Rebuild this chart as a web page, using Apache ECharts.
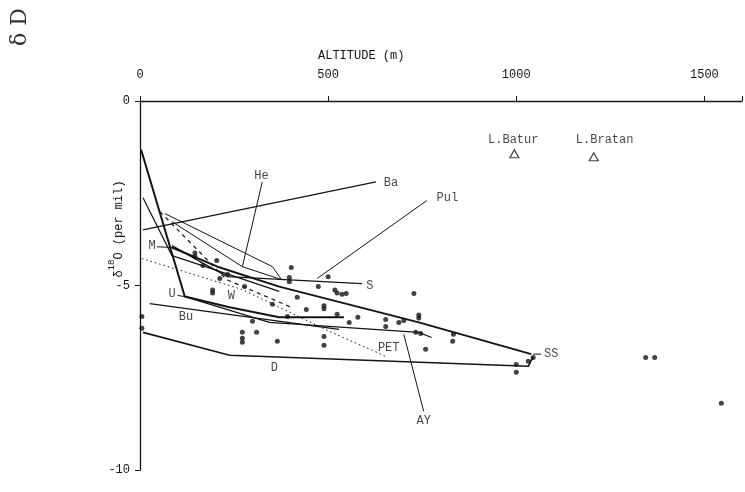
<!DOCTYPE html>
<html>
<head>
<meta charset="utf-8">
<style>
  html, body { margin: 0; padding: 0; background: #fff; }
  #chart { width: 745px; height: 492px; }
</style>
<script src="https://cdn.jsdelivr.net/npm/echarts@6/dist/echarts.min.js"></script>
</head>
<body>
<div id="chart"></div>
<script>
// Altitude (m) vs delta-18O (per mil) profiles along Bali streams

// Axis ticks
const altitudeTicks = [0, 500, 1000, 1500];
const deltaTicks = [0, -5, -10];

// Stream profiles: [altitude, delta18O]
const steepU   = [[3, -1.32], [119, -5.30], [238, -5.59], [370, -5.86], [542, -5.86]];
const ayLine   = [[119, -5.30], [344, -6.00], [741, -6.27], [775, -6.41]];
const ssUpper  = [[85, -3.97], [206, -4.49], [370, -5.03], [741, -6.00], [1040, -6.86]];
const mLower   = [[8, -2.62], [85, -4.19], [198, -4.57], [370, -5.16]];
const sLine    = [[85, -3.92], [159, -4.35], [233, -4.76], [423, -4.86], [590, -4.95]];
const heUpper  = [[66, -3.05], [352, -4.49], [376, -4.84]];
const heLower  = [[85, -3.27], [272, -4.49], [376, -4.84]];
const wLine    = [[53, -3.00], [230, -4.84], [402, -5.59]];
const petLine  = [[5, -4.27], [272, -5.11], [503, -6.24], [653, -6.92]];
const buLine   = [[26, -5.49], [529, -6.19]];
const dLine    = [[8, -6.27], [238, -6.89], [1032, -7.19], [1045, -6.92]];
const baLine   = [[8, -3.49], [627, -2.19]];

// Leader lines from names to profiles
const leaders = [
  [[325, -2.19], [272, -4.49]],   // He
  [[762, -2.70], [471, -4.81]],   // Pul
  [[701, -6.32], [754, -8.41]],   // AY
  [[45, -3.95], [85, -3.97]],     // M
  [[100, -5.27], [119, -5.30]],   // U
  [[1045, -6.86], [1066, -6.86]]  // SS
];

// Individual samples
const samples = [
  [5, -5.84], [5, -6.16], [146, -4.12], [146, -4.22], [167, -4.46], [204, -4.32],
  [212, -4.81], [233, -4.70], [193, -5.12], [193, -5.20], [278, -5.03], [352, -5.51],
  [299, -5.97], [272, -6.27], [272, -6.43], [272, -6.54], [310, -6.27], [365, -6.51],
  [402, -4.51], [397, -4.78], [397, -4.90], [474, -5.03], [500, -4.76], [518, -5.12],
  [524, -5.20], [537, -5.24], [548, -5.22], [418, -5.32], [442, -5.65], [489, -5.55],
  [489, -5.63], [524, -5.78], [556, -6.00], [579, -5.86], [653, -5.92], [653, -6.11],
  [688, -6.00], [701, -5.95], [728, -5.22], [741, -5.80], [741, -5.88], [733, -6.27],
  [746, -6.30], [833, -6.32], [831, -6.51], [759, -6.73], [1000, -7.14], [1000, -7.35],
  [1032, -7.05], [1045, -6.95], [1344, -6.95], [1368, -6.95], [1545, -8.19],
  [489, -6.38], [489, -6.62], [392, -5.84]
];

// Crater lakes
const lakes = [[995, -1.43], [1206, -1.51]];

// Text annotations: [altitude, delta18O, text]
const names = [
  [323, -2.03, 'He'], [667, -2.22, 'Ba'], [817, -2.62, 'Pul'], [32, -3.92, 'M'],
  [611, -5.00, 'S'], [85, -5.22, 'U'], [243, -5.27, 'W'], [122, -5.86, 'Bu'],
  [661, -6.68, 'PET'], [357, -7.22, 'D'], [754, -8.68, 'AY'], [1093, -6.86, 'SS'],
  [992, -1.05, 'L.Batur'], [1235, -1.05, 'L.Bratan']
];

const INK = '#141414';
const MONO = '"Liberation Mono", "DejaVu Sans Mono", monospace';

function profile(data, width, type) {
  return {
    type: 'line', data: data, showSymbol: false, silent: true,
    lineStyle: { color: INK, width: width, type: type || 'solid' },
    z: 3
  };
}

const series = [
  profile(steepU, 2),
  profile(ayLine, 1.2),
  profile(ssUpper, 2),
  profile(mLower, 1.2),
  profile(sLine, 1.4),
  profile(heUpper, 1),
  profile(heLower, 1),
  profile(wLine, 1.2, [4, 4]),
  profile(petLine, 1, [1.5, 3]),
  profile(buLine, 1.3),
  profile(dLine, 1.6),
  profile(baLine, 1.3)
];
leaders.forEach(l => series.push(profile(l, 1)));

series.push({
  type: 'scatter', data: samples, symbol: 'circle', symbolSize: 5,
  itemStyle: { color: INK }, z: 4
});
series.push({
  type: 'scatter', data: lakes, symbol: 'triangle', symbolSize: [9, 8],
  itemStyle: { color: '#fff', borderColor: INK, borderWidth: 1.2 }, z: 4
});
series.push({
  type: 'scatter', data: names, symbolSize: 0, z: 5,
  encode: { x: 0, y: 1 },
  label: {
    show: true, position: 'inside', formatter: p => p.data[2],
    color: INK, fontFamily: MONO, fontSize: 12
  }
});

const chart = echarts.init(document.getElementById('chart'), null, { renderer: 'canvas' });
chart.setOption({
  animation: false,
  backgroundColor: '#fff',
  grid: { left: 140, top: 101, right: 0, bottom: 22, containLabel: false },
  xAxis: {
    type: 'value', position: 'top', min: 0, max: 1600, interval: 500,
    axisLine: { show: true, onZero: false, lineStyle: { color: INK, width: 1.3 } },
    axisTick: { show: true, length: 5, inside: false, lineStyle: { color: INK } },
    axisLabel: {
      color: INK, fontFamily: MONO, fontSize: 12, margin: 20,
      formatter: v => altitudeTicks.includes(v) ? String(v) : ''
    },
    splitLine: { show: false }
  },
  yAxis: {
    type: 'value', min: -10, max: 0, interval: 5,
    axisLine: { show: true, onZero: false, lineStyle: { color: INK, width: 1.3 } },
    axisTick: { show: true, length: 5, lineStyle: { color: INK } },
    axisLabel: {
      color: INK, fontFamily: MONO, fontSize: 12, margin: 10,
      formatter: v => deltaTicks.includes(v) ? String(v) : ''
    },
    splitLine: { show: false }
  },
  graphic: [
    {
      type: 'text', left: 318, top: 50,
      style: { text: 'ALTITUDE (m)', fill: INK, font: '12px ' + MONO }
    },
    {
      type: 'text', x: 116, y: 229, rotation: Math.PI / 2,
      style: {
        text: '{d|δ}{s|18}{o|O (per mil)}',
        align: 'center', verticalAlign: 'middle',
        rich: {
          d: { fontFamily: MONO, fontSize: 12, fill: INK, verticalAlign: 'bottom' },
          s: { fontFamily: MONO, fontSize: 9, fill: INK, verticalAlign: 'top', padding: [0, 0, 8, 0] },
          o: { fontFamily: MONO, fontSize: 12, fill: INK, verticalAlign: 'bottom' }
        }
      }
    },
    {
      type: 'text', x: 20, y: 27, rotation: Math.PI / 2,
      style: {
        text: 'δ D', align: 'center', verticalAlign: 'middle',
        fill: '#333', font: '22px "DejaVu Serif", serif'
      }
    }
  ],
  series: series
});
</script>
</body>
</html>
